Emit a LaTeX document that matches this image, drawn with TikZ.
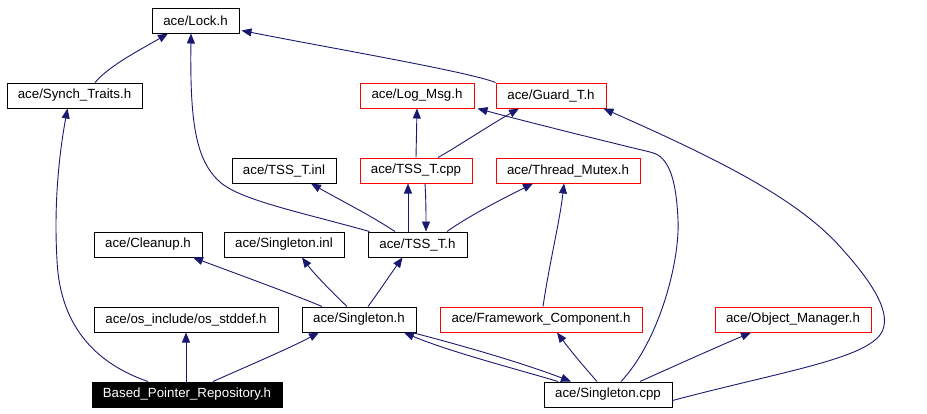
\documentclass[tikz,border=0pt]{standalone}
\usepackage{fontspec}
\setmainfont{Liberation Sans}
\usetikzlibrary{arrows.meta}
\definecolor{edgeblue}{RGB}{25,25,112}
\begin{document}
\begin{tikzpicture}[x=1pt,y=-1pt,
  box/.style={draw=black,line width=1pt,rectangle,minimum height=25pt,inner sep=0pt,
    font=\fontsize{13.3}{15}\selectfont},
  redbox/.style={box,draw=red},
  blackbox/.style={box,fill=black,text=white},
  edge/.style={draw=edgeblue,line width=0.9pt,-{Triangle[length=10pt,width=8pt]}}]
\useasboundingbox (0,0) rectangle (927,413);
% nodes
\node[box,minimum width=87pt] (lock) at (195.5,20.5) {ace/Lock.h};
\node[box,minimum width=135pt] (synch) at (74.5,95.5) {ace/Synch\_Traits.h};
\node[redbox,minimum width=114pt] (logmsg) at (417,95.5) {ace/Log\_Msg.h};
\node[redbox,minimum width=110pt] (guard) at (551,95.5) {ace/Guard\_T.h};
\node[box,minimum width=104pt] (tssinl) at (284,170.5) {ace/TSS\_T.inl};
\node[redbox,minimum width=112pt] (tsscpp) at (416,170.5) {ace/TSS\_T.cpp};
\node[redbox,minimum width=144pt] (mutex) at (568,170.5) {ace/Thread\_Mutex.h};
\node[box,minimum width=108pt] (cleanup) at (148,244.5) {ace/Cleanup.h};
\node[box,minimum width=120pt] (sinl) at (284,244.5) {ace/Singleton.inl};
\node[box,minimum width=99pt] (tssh) at (417.5,244.5) {ace/TSS\_T.h};
\node[box,minimum width=184pt] (stddef) at (186,319.5) {ace/os\_include/os\_stddef.h};
\node[box,minimum width=114pt] (singh) at (359,319.5) {ace/Singleton.h};
\node[redbox,minimum width=202pt] (fwc) at (541,319.5) {ace/Framework\_Component.h};
\node[redbox,minimum width=156pt] (objmgr) at (793,319.5) {ace/Object\_Manager.h};
\node[blackbox,minimum width=190pt] (bpr) at (187,394.5) {Based\_Pointer\_Repository.h};
\node[box,minimum width=128pt] (scpp) at (608,394.5) {ace/Singleton.cpp};
% edges
\draw[edge] ([xshift=20.5pt]synch.north) .. controls (110,65) and (140,50) .. ([xshift=-27.5pt]lock.south);
\draw[edge] ([xshift=2pt]tssh.north west) .. controls (300,212) and (240,200) .. (220,182)
  .. controls (195,160) and (190,120) .. ([xshift=-4.5pt]lock.south);
\draw[edge] (guard.north west) .. controls (470,72) and (330,48) .. ([yshift=-10pt,xshift=2pt]lock.east);
\draw[edge] (tsscpp.north) -- (logmsg.south);
\draw[edge] ([xshift=22pt]tsscpp.north) .. controls (455,148) and (490,125) .. ([xshift=-32pt]guard.south);
\draw[edge] ([xshift=-22.5pt]tssh.north) .. controls (370,215) and (340,200) .. ([xshift=27pt]tssinl.south);
\draw[edge] ([xshift=-9.5pt]tssh.north) -- ([xshift=-8pt]tsscpp.south);
\draw[edge] ([xshift=9pt]tsscpp.south) .. controls (426,200) and (426,215) .. ([xshift=8.5pt]tssh.north);
\draw[edge] ([xshift=29.5pt]tssh.north) .. controls (470,215) and (510,195) .. ([xshift=-35pt]mutex.south);
\draw[edge] ([xshift=-37pt]singh.north) .. controls (300,297) and (240,275) .. ([xshift=45pt]cleanup.south);
\draw[edge] ([xshift=-12pt]singh.north) .. controls (335,295) and (315,275) .. ([xshift=18pt]sinl.south);
\draw[edge] ([xshift=9pt]singh.north) .. controls (378,293) and (390,275) .. ([xshift=-15pt]tssh.south);
\draw[edge] ([xshift=-1pt]bpr.north) -- (stddef.south);
\draw[edge] ([xshift=26pt]bpr.north) .. controls (250,365) and (290,348) .. ([xshift=-40pt]singh.south);
\draw[edge] ([xshift=-39pt]bpr.north) .. controls (100,365) and (60,330) .. (57,260)
  .. controls (54,210) and (58,160) .. ([xshift=-7pt]synch.south);
\draw[edge] ([xshift=53pt]singh.south) .. controls (460,345) and (520,362) .. ([xshift=-37pt]scpp.north);
\draw[edge] ([xshift=-50pt]scpp.north) .. controls (520,370) and (450,352) .. ([xshift=45pt]singh.south);
\draw[edge] ([xshift=-11pt]scpp.north) .. controls (585,368) and (570,350) .. ([xshift=16pt]fwc.south);
\draw[edge] ([xshift=2pt]fwc.north) .. controls (550,260) and (560,220) .. ([xshift=-4pt]mutex.south);
\draw[edge] ([xshift=32pt]scpp.north) .. controls (670,368) and (710,350) .. ([xshift=-42pt]objmgr.south);
\draw[edge] ([xshift=13pt]scpp.north) .. controls (660,340) and (680,260) .. (678,220)
  .. controls (676,170) and (665,155) .. (650,152)
  .. controls (600,140) and (520,120) .. ([xshift=3pt]logmsg.south east);
\draw[edge] ([yshift=-6pt]scpp.east) .. controls (780,372) and (860,360) .. (880,335)
  .. controls (895,315) and (870,280) .. (843,250)
  .. controls (800,200) and (720,160) .. ([xshift=-3pt]guard.south east);
\end{tikzpicture}
\end{document}
